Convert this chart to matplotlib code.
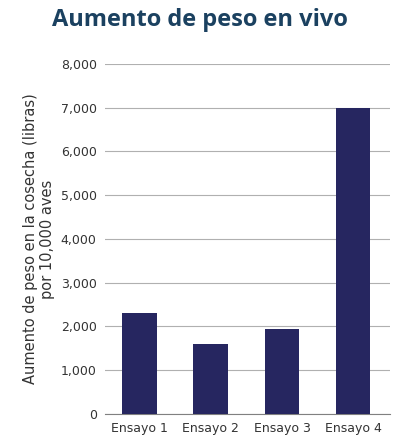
import matplotlib
matplotlib.use('Agg')
from matplotlib import pyplot as plt

ensayos = ['Ensayo 1', 'Ensayo 2', 'Ensayo 3', 'Ensayo 4']
aumento = [2300, 1600, 1930, 7000]
y_ticks = [0, 1000, 2000, 3000, 4000, 5000, 6000, 7000, 8000]

plt.rcParams['font.family'] = ['DejaVu Sans']

fig = plt.figure(figsize=(4, 4.47), dpi=100)
ax = fig.add_axes([0.2625, 0.074, 0.7125, 0.783])
ax.bar(ensayos, aumento, width=0.49, color='#262660', zorder=3)
ax.set_ylim(0, 8000)
ax.set_xlim(-0.49, 3.52)
ax.set_yticks(y_ticks)
ax.set_yticklabels([f'{v:,}' for v in y_ticks])
ax.grid(axis='y', color='#b0b0b0', linewidth=0.8, zorder=0)
for s in ['top', 'right', 'left']:
    ax.spines[s].set_visible(False)
ax.spines['bottom'].set_color('#808080')
ax.tick_params(axis='both', length=0, labelsize=9, colors='#333333', pad=6)
ax.set_ylabel('Aumento de peso en la cosecha (libras)\npor 10,000 aves', fontsize=10.5, color='#333333')
fig.text(0.5, 0.955, 'Aumento de peso en vivo', ha='center', va='center',
         fontsize=17, fontweight='bold', color='#1b4160', family=['Open Sans', 'DejaVu Sans'])
fig.savefig('out.png', dpi=100)
